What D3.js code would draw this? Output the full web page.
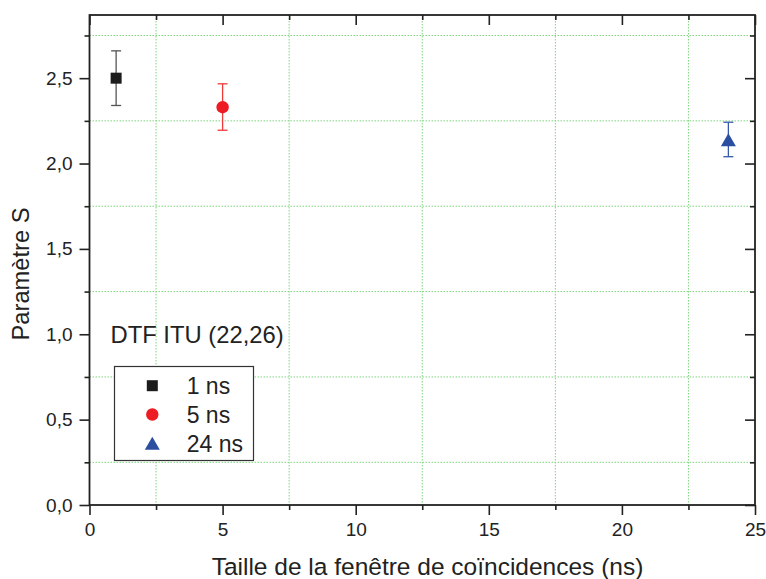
<!DOCTYPE html>
<html>
<head>
<meta charset="utf-8">
<script src="https://cdn.jsdelivr.net/npm/d3@7"></script>
<style>
  body { margin: 0; background: #fff; }
  svg { display: block; font-family: "Liberation Sans", Arial, sans-serif; }
</style>
</head>
<body>
<script>
// data
const labels = ["1 ns", "5 ns", "24 ns"];
const windows = [1, 5, 24];
const sValues = [2.50, 2.33, 2.14];
const errLow = [2.34, 2.195, 2.04];
const errHigh = [2.66, 2.467, 2.242];
const colors = ["#1c1c1c", "#ed1c24", "#2b4fa0"];
const barColors = ["#555555", "#ef3a3a", "#3558a8"];
const shapes = ["square", "circle", "triangle"];
const xTicks = [0, 5, 10, 15, 20, 25];
const xMinor = [2.5, 7.5, 12.5, 17.5, 22.5];
const yTicks = [0, 0.5, 1.0, 1.5, 2.0, 2.5];
const yMinor = [0.25, 0.75, 1.25, 1.75, 2.25, 2.75];

const W = 766, H = 579;
const margin = { top: 15, right: 11, bottom: 74, left: 89.5 };
const width = W - margin.left - margin.right;
const height = H - margin.top - margin.bottom;

const svg = d3.select("body").append("svg")
  .attr("width", W).attr("height", H);
const g = svg.append("g")
  .attr("transform", `translate(${margin.left},${margin.top})`);

const x = d3.scaleLinear().domain([0, 25]).range([0, width]);
const y = d3.scaleLinear().domain([0, 2.87]).range([height, 0]);

// dotted green grid at the minor positions
g.append("g").selectAll("line").data(xMinor).join("line")
  .attr("x1", d => x(d)).attr("x2", d => x(d))
  .attr("y1", 0).attr("y2", height)
  .attr("stroke", "#7fd67f").attr("stroke-width", 1)
  .attr("stroke-dasharray", "1.5,1.5");
g.append("g").selectAll("line").data(yMinor).join("line")
  .attr("x1", 0).attr("x2", width)
  .attr("y1", d => y(d)).attr("y2", d => y(d))
  .attr("stroke", "#7fd67f").attr("stroke-width", 1)
  .attr("stroke-dasharray", "1.5,1.5");

const axisColor = "#222";
const styleAxis = sel => {
  sel.select(".domain").remove();
  sel.selectAll(".tick line").attr("stroke", axisColor).attr("stroke-width", 1.6);
  sel.selectAll("text").attr("fill", "#222").style("font-size", "19px")
    .style("font-family", "'Liberation Sans', Arial, sans-serif");
};

// bottom
g.append("g").attr("transform", `translate(0,${height})`)
  .call(d3.axisBottom(x).tickValues(xTicks).tickSize(10).tickPadding(8).tickFormat(d3.format("d")))
  .call(styleAxis);
g.append("g").attr("transform", `translate(0,${height})`)
  .call(d3.axisBottom(x).tickValues(xMinor).tickSize(5).tickFormat(""))
  .call(styleAxis);
// left
const fmtY = d => d.toFixed(1).replace(".", ",");
g.append("g")
  .call(d3.axisLeft(y).tickValues(yTicks).tickSize(10).tickPadding(7).tickFormat(fmtY))
  .call(styleAxis);
g.append("g")
  .call(d3.axisLeft(y).tickValues(yMinor).tickSize(5).tickFormat(""))
  .call(styleAxis);
// top (inward)
g.append("g")
  .call(d3.axisTop(x).tickValues(xTicks).tickSize(-10).tickFormat(""))
  .call(styleAxis);
g.append("g")
  .call(d3.axisTop(x).tickValues(xMinor).tickSize(-5).tickFormat(""))
  .call(styleAxis);
// right (inward)
g.append("g").attr("transform", `translate(${width},0)`)
  .call(d3.axisRight(y).tickValues(yTicks).tickSize(-10).tickFormat(""))
  .call(styleAxis);
g.append("g").attr("transform", `translate(${width},0)`)
  .call(d3.axisRight(y).tickValues(yMinor).tickSize(-5).tickFormat(""))
  .call(styleAxis);

// frame
g.append("rect")
  .attr("x", 0).attr("y", 0).attr("width", width).attr("height", height)
  .attr("fill", "none").attr("stroke", axisColor).attr("stroke-width", 1.8);

const symbolPath = (shape, cx, cy) => {
  if (shape === "square") {
    const s = 5.5;
    return `M${cx - s},${cy - s}h${2 * s}v${2 * s}h${-2 * s}Z`;
  }
  if (shape === "triangle") {
    const hw = 7.5, hh = 6.5;
    return `M${cx},${cy - hh}L${cx + hw},${cy + hh}L${cx - hw},${cy + hh}Z`;
  }
  return null;
};

const drawMarker = (sel, i, cx, cy) => {
  if (shapes[i] === "circle") {
    sel.append("circle").attr("cx", cx).attr("cy", cy).attr("r", 6.2)
      .attr("fill", colors[i]);
  } else {
    sel.append("path").attr("d", symbolPath(shapes[i], cx, cy))
      .attr("fill", colors[i]);
  }
};

// error bars + points
const points = g.append("g");
windows.forEach((w, i) => {
  const cx = x(w);
  const cap = 5;
  const eb = points.append("g").attr("stroke", barColors[i]).attr("stroke-width", 1.3);
  eb.append("line").attr("x1", cx).attr("x2", cx)
    .attr("y1", y(errHigh[i])).attr("y2", y(errLow[i]));
  eb.append("line").attr("x1", cx - cap).attr("x2", cx + cap)
    .attr("y1", y(errHigh[i])).attr("y2", y(errHigh[i]));
  eb.append("line").attr("x1", cx - cap).attr("x2", cx + cap)
    .attr("y1", y(errLow[i])).attr("y2", y(errLow[i]));
  drawMarker(points, i, cx, y(sValues[i]));
});

// annotation
svg.append("text")
  .attr("x", 110.5).attr("y", 342.5)
  .attr("fill", "#222").style("font-size", "23.8px")
  .text("DTF ITU (22,26)");

// legend
const legend = svg.append("g");
legend.append("rect")
  .attr("x", 114.5).attr("y", 366.5).attr("width", 139).attr("height", 94)
  .attr("fill", "#fff").attr("stroke", "#333").attr("stroke-width", 1.2);
const rowY = [385.7, 414.5, 443.3];
labels.forEach((lab, i) => {
  drawMarker(legend, i, 152.3, rowY[i]);
  legend.append("text")
    .attr("x", 186.7).attr("y", rowY[i] + 8.3)
    .attr("fill", "#222").style("font-size", "23px")
    .text(lab);
});

// axis titles
svg.append("text")
  .attr("x", 427.5).attr("y", 575)
  .attr("text-anchor", "middle")
  .attr("fill", "#222").style("font-size", "24.5px")
  .text("Taille de la fenêtre de coïncidences (ns)");
svg.append("text")
  .attr("transform", `translate(28.5,${274}) rotate(-90)`)
  .attr("text-anchor", "middle")
  .attr("fill", "#222").style("font-size", "23.7px")
  .text("Paramètre S");
</script>
</body>
</html>
